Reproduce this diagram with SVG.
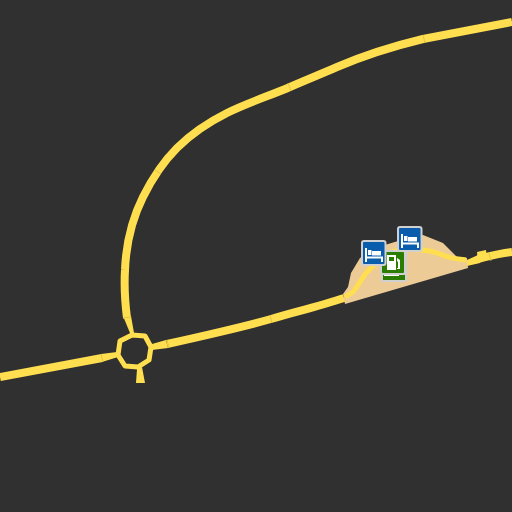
<svg xmlns="http://www.w3.org/2000/svg" width="512" height="512" viewBox="0 0 512 512">
<style>
.r{fill:none;stroke:#ffdf4f;stroke-width:8;stroke-linejoin:round}
.t{fill:#ffdf4f}
.s{fill:none;stroke:#ffdf4f;stroke-width:5;stroke-linejoin:round}
.sep{fill:none;stroke:#d9bd45;stroke-width:.8}
.bg{fill:#d0d0d0}
.blue{fill:#0a5cac}
.green{fill:#2a7d00}
.w{fill:#fff}
</style>
<defs>
<g id="bed">
<rect class="bg" x="0" y="0" width="25.500" height="26" rx="3"/>
<rect class="blue" x="2" y="2" width="21.500" height="22" rx="1"/>
<path class="w" d="M4 8h2v14H4zM6 16.500H22V22h-2v-3.500H6zM7 10h3.500v5H7zM11 11h9v4.500H11z"/>
</g>
</defs>
<rect width="512" height="512" fill="#303030"/>
<g id="services-area">
<path fill="#edcb97" d="M345 304L343 294L348 287L351 273L360 258L375 248L398 241L423 235L443 243L457 257L467 258L468 268Z"/>
</g>
<g id="connectors">
<path class="r" d="M512 22L423 39C394 46 365 55 337 67C321 74 306 80 290 87C269 96 247 103 227 113C209 122 191 134 177 148C163 162 152 179 143 197C132 219 126 245 125 270C124 286 125 302 127 318"/>
<path class="t" d="M123 316L131 316L134 333L130 333Z"/>
<path class="r" d="M0 377L102 358"/>
<path class="t" d="M101 354L102 362L118 357L117 352Z"/>
<path class="r" d="M167 344C185 340 250 325 271 319C295 312 320 306 344 298"/>
<path class="t" d="M152 344L166 340L168 348L152 350Z"/>
<path class="r" d="M512 252C500 253 490 256 478 259"/>
<path class="t" d="M467 260L478 255L480 263L467 266Z"/>
<path class="t" d="M477 252L486 250L487 260L478 262Z"/>
<path class="s" d="M345 297L353 292C358 286 362 278 367 272C374 264 382 258 392 252C402 249 413 249 423 250C430 251 435 252 440 254C446 257 450 258 466 260"/>
<path class="s" d="M120 341L132 335L145 336L151 347L149 360L138 367L125 366L118 355Z"/>
<path class="t" d="M137 369L142 367L145 383L136 383Z"/>
<path class="sep" d="M101 354L103 362M167 340L169 348M270 315L272 323M288 83L291 91M423 35L425 43M155 170L161 174M123 318L131 317M489 253L491 261"/>
</g>
<g id="fuel-shadow">
<rect class="bg" x="381" y="256" width="26" height="26" rx="2"/>
<rect class="green" x="383" y="262" width="22" height="18"/>
<rect class="w" x="384" y="274.500" width="15" height="1.500"/>
</g>
<g id="fuel">
<rect class="bg" x="380" y="250" width="27" height="25" rx="3"/>
<rect class="green" x="382" y="252" width="22" height="21" rx="1"/>
<path class="w" d="M387 255h9v15h-9zM397 258l3 2v9h-3v-1h1v-6l-1-1z"/>
<rect class="green" x="389" y="257" width="5" height="4"/>
</g>
<g id="lodging-1"><use href="#bed" x="361" y="240"/></g>
<g id="lodging-2"><use href="#bed" x="397" y="226"/></g>
</svg>
